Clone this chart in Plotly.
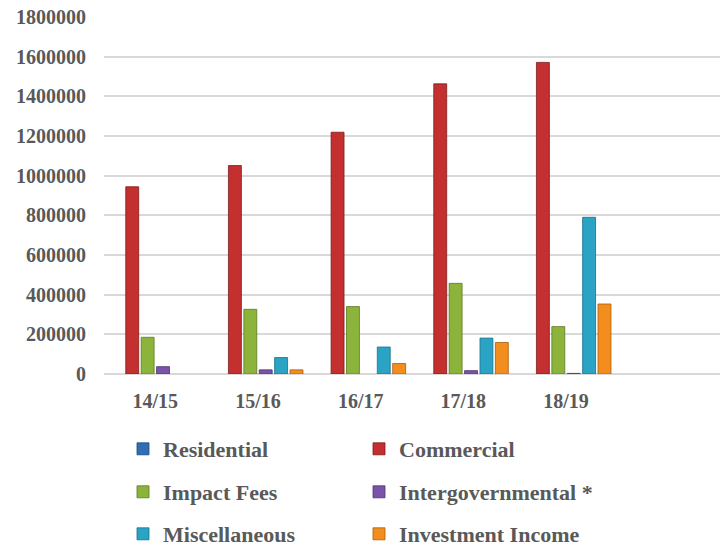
import plotly.graph_objects as go

# Fiscal years shown on the category axis
years = ["14/15", "15/16", "16/17", "17/18", "18/19"]

# Revenue by source, per fiscal year (None = no entry for that year)
residential = [None, None, None, None, None]
commercial = [944000, 1051000, 1219000, 1463000, 1571000]
impact_fees = [185000, 326000, 340000, 457000, 239000]
intergovernmental = [37000, 21000, None, 17000, 3000]
miscellaneous = [None, 83000, 136000, 181000, 790000]
investment_income = [None, 21000, 53000, 159000, 353000]

series = [
    ("Residential", residential, "#2f6db5", "#1d4a80", "legend"),
    ("Commercial", commercial, "#c3302f", "#7e1b1a", "legend"),
    ("Impact Fees", impact_fees, "#8cb43b", "#5a7a22", "legend2"),
    ("Intergovernmental *", intergovernmental, "#7954a8", "#4d3272", "legend2"),
    ("Miscellaneous", miscellaneous, "#2aa3c5", "#17708a", "legend3"),
    ("Investment Income", investment_income, "#f28d1e", "#a85d0e", "legend3"),
]

W, H = 726, 546
FONT = "Liberation Serif, Times New Roman, serif"
GREY = "#595959"

fig = go.Figure()
for name, vals, fill, edge, leg in series:
    fig.add_trace(go.Bar(
        name=name,
        x=years,
        y=vals,
        marker=dict(color=fill, line=dict(color=edge, width=0.8)),
        legend=leg,
    ))

legend_font = dict(family=FONT, size=22, color=GREY, weight="bold")


def legend_row(y_px):
    return dict(
        orientation="h",
        xref="container", yref="container",
        x=123 / W, y=1 - y_px / H,
        xanchor="left", yanchor="middle",
        entrywidth=191, entrywidthmode="pixels",
        font=legend_font,
        bgcolor="rgba(0,0,0,0)",
        traceorder="normal",
    )


fig.update_layout(
    width=W, height=H,
    margin=dict(l=104, r=6, t=15, b=172),
    paper_bgcolor="white",
    plot_bgcolor="white",
    barmode="group",
    bargap=0.10,
    bargroupgap=0.16,
    font=dict(family=FONT, color=GREY),
    legend=legend_row(449),
    legend2=legend_row(492),
    legend3=legend_row(534),
    xaxis=dict(
        type="category",
        range=[-0.5, 5.5],
        showgrid=False,
        showline=False,
        zeroline=False,
        ticks="",
        ticklabelstandoff=13,
        tickfont=dict(family=FONT, size=20, color=GREY, weight="bold"),
    ),
    yaxis=dict(
        range=[0, 1800000],
        tickvals=[0, 200000, 400000, 600000, 800000, 1000000,
                  1200000, 1400000, 1600000, 1800000],
        ticktext=["0", "200000", "400000", "600000", "800000", "1000000",
                  "1200000", "1400000", "1600000", "1800000"],
        showgrid=True,
        gridcolor="#d9d9d9",
        gridwidth=1.5,
        zeroline=True,
        zerolinecolor="#d9d9d9",
        zerolinewidth=1.5,
        showline=False,
        ticks="",
        ticklabelstandoff=17,
        tickfont=dict(family=FONT, size=20, color=GREY, weight="bold"),
    ),
)

fig.write_html("out.html")
